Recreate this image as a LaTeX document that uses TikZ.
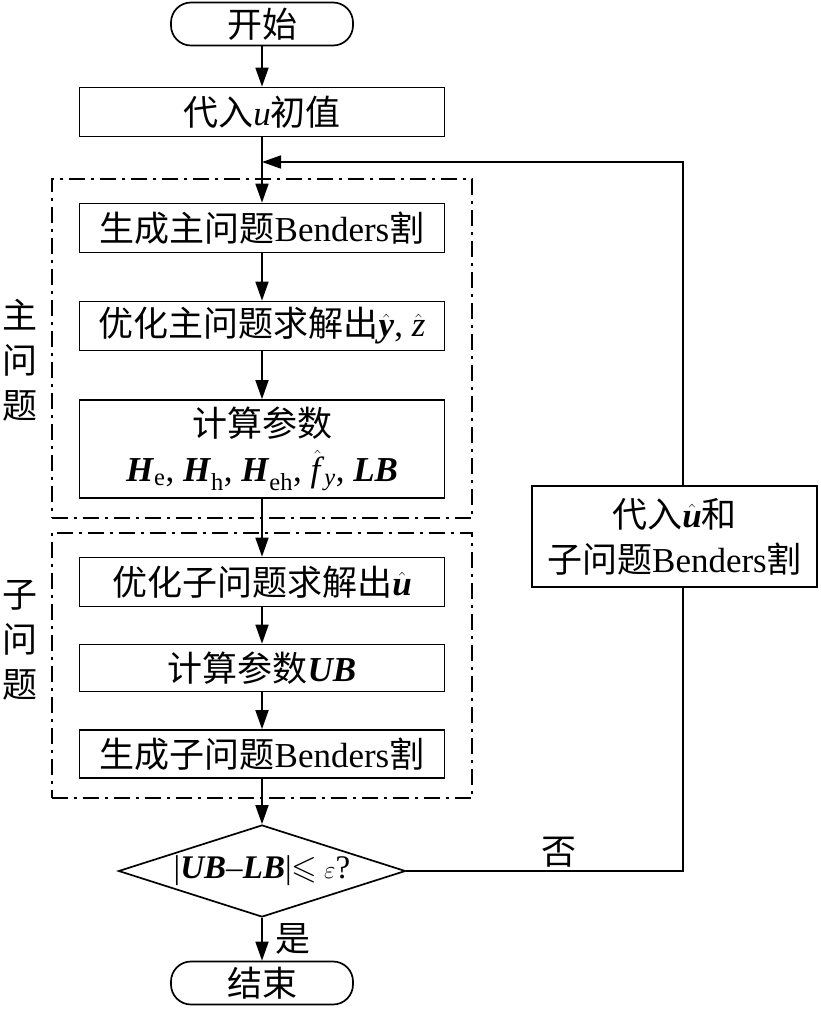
\documentclass[tikz,border=0pt]{standalone}
\usepackage{amsmath}
\usepackage{amssymb}
\usepackage{fontspec}
\setmainfont{Liberation Serif}
\newfontfamily\cjk{Noto Sans CJK SC}
\usepackage{tikz}
\usetikzlibrary{shapes.geometric,arrows.meta,positioning,fit}
\newcommand{\zh}[1]{{\cjk #1}}
\newcommand{\bv}[1]{\textbf{\textit{#1}}}

\begin{document}
\begin{tikzpicture}[x=1pt, y=-1pt, font=\fontsize{35}{45}\selectfont, box/.style={draw, line width=1.7pt, align=center, minimum width=365pt, minimum height=49pt, inner sep=2pt}, term/.style={draw, line width=1.7pt, rounded corners=20pt, minimum width=182pt, minimum height=43pt, inner sep=0pt}, decide/.style={draw, diamond, line width=1.7pt, minimum width=287pt, minimum height=92pt, inner sep=0pt}, group/.style={draw, line width=1.8pt, dash pattern=on 16pt off 6pt on 3pt off 6pt, inner xsep=27pt, inner ysep=21.5pt, yshift=2.5pt}, arr/.style={-{Triangle[length=19pt,width=13pt]}, line width=1.7pt}]
\useasboundingbox (0,0) rectangle (821,1010);
\node[term] (start) at (262,24) {\zh{开始}};
\node[box] (init) at (262,112) {\zh{代入}\textit{u}\zh{初值}};
\node[box] (mcut) at (262,228) {\zh{生成主问题}Benders\zh{割}};
\node[box] (msolve) at (262,326) {\zh{优化主问题求解出}$\hat{\text{\bv{y}}}$, $\hat{\text{\textit{z}}}$};
\node[box, minimum height=98pt] (mparam) at (262,449) {\zh{计算参数}\\\bv{H}\textsubscript{e}, \bv{H}\textsubscript{h}, \bv{H}\textsubscript{eh}, $\hat{\text{\textit{f}}}$\textsubscript{\textit{y}}, \bv{LB}};
\node[box] (ssolve) at (262,582) {\zh{优化子问题求解出}$\hat{\text{\bv{u}}}$};
\node[box, minimum height=47pt] (sparam) at (262,668) {\zh{计算参数}\bv{UB}};
\node[box, minimum height=48pt] (scut) at (262,754) {\zh{生成子问题}Benders\zh{割}};
\node[decide] (check) at (262,871) {};
\node[font=\fontsize{33}{40}\selectfont] (checktxt) at (check.center) {|\bv{UB}–\bv{LB}|$\leqslant\varepsilon$?};
\node[term] (stop) at (262,983) {\zh{结束}};
\node[box, minimum width=285pt, minimum height=101pt] (back) at (674.5,536.5) {\zh{代入}$\hat{\text{\bv{u}}}$\zh{和}\\\zh{子问题}Benders\zh{割}};
% dash-dot groups
\node[group, fit=(mcut)(mparam)] (mgroup) {};
\node[group, fit=(ssolve)(scut)] (sgroup) {};
\node[align=center] (mlabel) at (20,360) {\zh{主}\\\zh{问}\\\zh{题}};
\node[align=center] (slabel) at (20,640) {\zh{子}\\\zh{问}\\\zh{题}};
% feedback path
\coordinate (rdown) at (683,871);
\coordinate (rup) at (683,162);
\coordinate (join) at (262,162);
\draw[arr] (start) -- (init);
\draw[arr] (init) -- (mcut);
\draw[arr] (mcut) -- (msolve);
\draw[arr] (msolve) -- (mparam);
\draw[arr] (mparam) -- (ssolve);
\draw[arr] (ssolve) -- (sparam);
\draw[arr] (sparam) -- (scut);
\draw[arr] (scut) -- (check);
\draw[arr] (check) -- node[right=9pt] (yes) {\zh{是}} (stop);
\draw[line width=1.7pt] (check.east) -- node[above, pos=0.55] (no) {\zh{否}} (rdown) -- (rdown |- back.south);
\draw[arr] (rup |- back.north) -- (rup) -- (join);
\end{tikzpicture}
\end{document}
